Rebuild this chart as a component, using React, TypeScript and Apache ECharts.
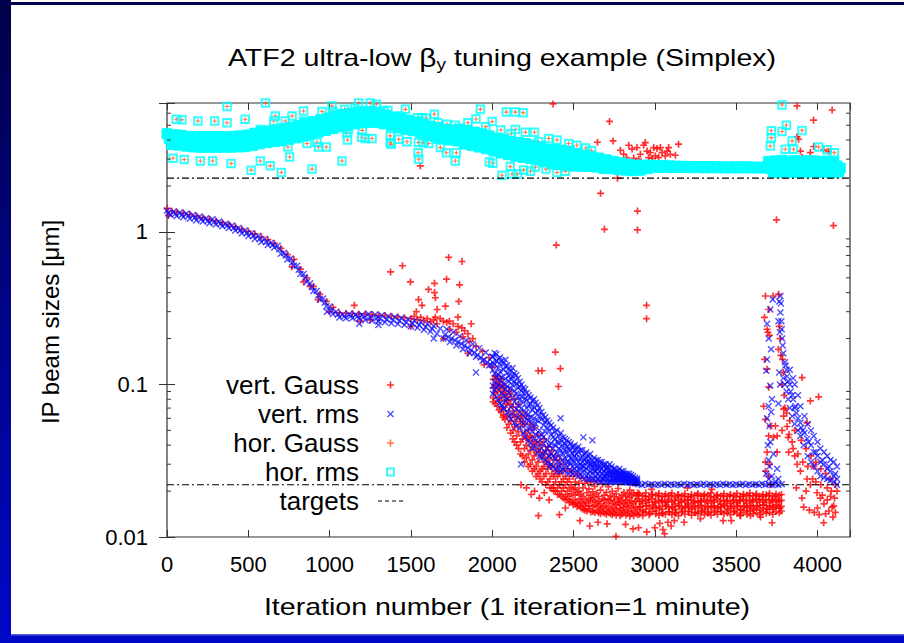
import React, { useEffect, useRef } from 'react';
import * as echarts from 'echarts';

const FONT = "'Liberation Sans', Arial, Helvetica, sans-serif";

const legendNames = ['vert. Gauss', 'vert. rms', 'hor. Gauss', 'hor. rms', 'targets'];
const yMinorTicks = [0.02, 0.03, 0.04, 0.05, 0.06, 0.07, 0.08, 0.09, 0.2, 0.3, 0.4, 0.5, 0.6, 0.7, 0.8, 0.9, 2, 3, 4, 5, 6];
const horizontalTarget = 2.25;
const verticalTarget = 0.022;
const targetSpan = [0, 4200];

// ---------- vert. rms (blue x) ----------
const vertRmsBand = [
  [0,1.38],[20,1.29],[40,1.36],[60,1.27],[80,1.34],[100,1.25],[120,1.32],[140,1.22],[160,1.29],[180,1.19],
  [200,1.26],[220,1.17],[240,1.23],[260,1.14],[280,1.21],[300,1.12],[320,1.17],[340,1.09],[360,1.13],[380,1.06],
  [400,1.10],[420,1.02],[440,1.06],[460,0.98],[480,1.02],[500,0.94],[520,0.98],[540,0.90],[560,0.94],[580,0.86],
  [600,0.90],[620,0.82],[640,0.85],[660,0.79],[680,0.81],[700,0.72],[720,0.73],[740,0.66],[760,0.67],[780,0.60],
  [800,0.60],[820,0.53],[840,0.53],[860,0.47],[880,0.46],[900,0.41],[920,0.41],[940,0.36],[960,0.366],[980,0.325],
  [1000,0.324],[1020,0.29],[1040,0.30],[1060,0.275],[1080,0.288],[1100,0.272],[1120,0.29],[1140,0.272],[1160,0.287],[1180,0.271],
  [1200,0.286],[1220,0.264],[1240,0.29],[1260,0.262],[1280,0.287],[1300,0.259],[1320,0.284],[1340,0.256],[1360,0.28],[1380,0.252],
  [1400,0.277],[1420,0.249],[1440,0.273],[1460,0.245],[1480,0.268],[1500,0.24],[1520,0.262],[1540,0.235],[1560,0.256],[1580,0.228],
  [1600,0.249],[1620,0.222],[1640,0.242],[1660,0.215],[1680,0.233],[1700,0.200],[1720,0.23],[1740,0.19],[1760,0.22],[1780,0.18],
  [1800,0.207],[1820,0.17],[1840,0.195],[1860,0.16],[1880,0.184],[1900,0.152],[1920,0.173],[1940,0.143],[1960,0.162],[1980,0.133],[2000,0.152],
  [10,1.33],[50,1.31],[90,1.29],[130,1.27],[170,1.24],[210,1.21],[250,1.18],[290,1.16],[330,1.13],[370,1.1],
  [410,1.06],[450,1.02],[490,0.98],[530,0.94],[570,0.9],[610,0.86],[650,0.82],[690,0.77],[730,0.7],[770,0.63],
  [810,0.565],[850,0.5],[890,0.435],[930,0.385],[970,0.345],[1010,0.307],[1050,0.287],[1090,0.28],[1130,0.281],[1170,0.279],
  [1210,0.277],[1250,0.275],[1290,0.272],[1310,0.27],[1350,0.267],[1390,0.265],[1430,0.261],[1470,0.256],[1510,0.251],
  [1550,0.245],[1590,0.238],[1630,0.232],
  [1710,0.212],[1730,0.205],[1750,0.2],[1770,0.195],[1790,0.19],[1810,0.185],[1830,0.18],[1850,0.174],[1870,0.168],[1890,0.162],
  [1910,0.156],[1930,0.15],[1950,0.145],[1970,0.14],[1990,0.135],
  [984,0.30],[1182,0.25],[1300,0.245],[1640,0.2],[1900,0.12],
];
// columns: [x, y1, y2, ...]
const vertRmsCloud = [
  [2004,0.152,0.098,0.124,0.087,0.14],[2015,0.118,0.161,0.092,0.135,0.104],[2026,0.142,0.083,0.111,0.158,0.095],
  [2037,0.099,0.128,0.147,0.079,0.116],[2048,0.136,0.106,0.075,0.121,0.15],[2059,0.088,0.143,0.112,0.097,0.073],
  [2070,0.125,0.069,0.138,0.101,0.084],[2081,0.109,0.131,0.078,0.145,0.093],[2092,0.066,0.119,0.097,0.133,0.081],
  [2103,0.127,0.088,0.105,0.062,0.114],[2114,0.094,0.122,0.071,0.108,0.059],[2125,0.113,0.064,0.099,0.128,0.082],
  [2136,0.077,0.105,0.118,0.056,0.091],[2147,0.101,0.069,0.087,0.115,0.053],[2158,0.083,0.11,0.061,0.095,0.073],
  [2169,0.097,0.052,0.079,0.104,0.066],[2180,0.07,0.091,0.057,0.083,0.1],[2191,0.088,0.062,0.048,0.076,0.095],
  [2202,0.065,0.081,0.093,0.054,0.045],[2213,0.079,0.05,0.07,0.088,0.059],[2224,0.058,0.085,0.043,0.073,0.064],
  [2235,0.074,0.052,0.082,0.041,0.061],[2246,0.049,0.068,0.078,0.056,0.038],[2257,0.071,0.044,0.06,0.08,0.052],
  [2268,0.055,0.076,0.039,0.065,0.047],[2279,0.067,0.042,0.058,0.073,0.036],[2290,0.045,0.062,0.07,0.05,0.034],
  [2302,0.059,0.038,0.066,0.047,0.033],[2314,0.041,0.054,0.035,0.063,0.045],[2326,0.057,0.036,0.049,0.061,0.032],
  [2338,0.038,0.052,0.043,0.031,0.058],[2350,0.05,0.034,0.056,0.04,0.029],[2362,0.035,0.047,0.03,0.054,0.041],
  [2374,0.045,0.038,0.052,0.029,0.034],[2386,0.033,0.049,0.04,0.028,0.044],[2398,0.042,0.031,0.05,0.036,0.027],
  [2410,0.038,0.046,0.029,0.034,0.041],[2422,0.03,0.043,0.037,0.048,0.027],[2434,0.04,0.032,0.045,0.028,0.035],
  [2446,0.033,0.041,0.027,0.037,0.044],[2458,0.043,0.029,0.036,0.031,0.039],[2470,0.031,0.038,0.042,0.026,0.034],
  [2482,0.037,0.027,0.033,0.041,0.03],[2494,0.029,0.035,0.039,0.026,0.032],[2506,0.034,0.04,0.028,0.031,0.037],
  [2518,0.026,0.033,0.038,0.029,0.035],[2530,0.036,0.028,0.031,0.025,0.039],[2542,0.03,0.037,0.026,0.033,0.028],
  [2554,0.034,0.025,0.029,0.037,0.031],[2566,0.027,0.032,0.035,0.024,0.029],[2578,0.033,0.028,0.025,0.031,0.036],
  [2590,0.029,0.034,0.026,0.024,0.031],[2602,0.024,0.03,0.033,0.027,0.035],[2614,0.032,0.026,0.029,0.024,0.03],
  [2626,0.027,0.033,0.024,0.03,0.028],[2638,0.03,0.025,0.032,0.027,0.023],[2650,0.026,0.029,0.024,0.032,0.028],
  [2662,0.031,0.027,0.025,0.023,0.029],[2674,0.024,0.028,0.031,0.026,0.023],[2686,0.029,0.025,0.027,0.03,0.024],
  [2698,0.026,0.03,0.023,0.028,0.025],[2710,0.028,0.024,0.029,0.026,0.023],[2722,0.025,0.027,0.03,0.023,0.026],
  [2734,0.027,0.029,0.024,0.026,0.023],[2746,0.024,0.026,0.028,0.025,0.023],[2758,0.028,0.023,0.026,0.024,0.027],
  [2770,0.025,0.027,0.023,0.026,0.024],[2782,0.023,0.026,0.028,0.024,0.025],[2794,0.027,0.024,0.025,0.023,0.026],
  [2806,0.024,0.027,0.023,0.025,0.026],[2818,0.026,0.023,0.025,0.0235,0.024],[2830,0.023,0.025,0.026,0.024,0.0228],
  [2842,0.025,0.0235,0.024,0.026,0.0228],[2854,0.024,0.0255,0.0228,0.023,0.0245],[2866,0.0235,0.025,0.0226,0.024,0.0231],
  [2878,0.0245,0.0227,0.0238,0.0232,0.0225],[2890,0.0232,0.0241,0.0224,0.0236,0.0228],
];
const vertRmsOutliers = [[2069,0.07],[2177,0.03],[2420,0.06],[2560,0.045],[2616,0.043]];
const vertRmsFlat = [
  [2900,0.0222],[2920,0.0219],[2940,0.0223],[2960,0.022],[2980,0.0222],[3000,0.0219],[3020,0.0222],[3040,0.022],
  [3060,0.0223],[3080,0.0219],[3100,0.0222],[3120,0.022],[3140,0.0222],[3160,0.0219],[3180,0.0223],[3200,0.022],
  [3220,0.0222],[3240,0.0219],[3260,0.0222],[3280,0.022],[3300,0.0223],[3320,0.0219],[3340,0.0222],[3360,0.022],
  [3380,0.0222],[3400,0.0219],[3420,0.0223],[3440,0.022],[3460,0.0222],[3480,0.0219],[3500,0.0222],[3520,0.022],
  [3540,0.0223],[3560,0.0219],[3580,0.0222],[3600,0.022],[3620,0.0222],[3640,0.0219],[3660,0.0223],[3680,0.022],
  [3700,0.0222],[3720,0.0219],[3740,0.0222],[3760,0.022],[3780,0.0222],
];
const vertRmsSpike = [
  [3710,0.31],[3690,0.146],[3685,0.123],[3710,0.098],[3700,0.072],[3715,0.066],[3705,0.0535],[3710,0.042],
  [3700,0.032],[3705,0.029],[3752,0.028],[3730,0.035],[3690,0.06],[3720,0.08],[3695,0.04],[3685,0.026],
  [3700,0.024],[3720,0.025],[3740,0.023],[3760,0.024],[3700,0.2],[3715,0.17],[3690,0.25],[3725,0.36],
  [3765,0.35],[3760,0.26],[3768,0.22],[3765,0.12],[3770,0.1],[3760,0.075],
  [3772,0.38],[3775,0.34],[3772,0.296],[3778,0.26],[3780,0.23],[3783,0.2],[3786,0.18],[3790,0.16],
  [3800,0.14],[3803,0.133],[3813,0.113],[3810,0.125],[3820,0.105],[3830,0.1],[3835,0.09],[3845,0.085],
  [3850,0.08],[3860,0.07],[3864,0.072],[3870,0.065],[3880,0.06],[3895,0.056],[3900,0.052],[3910,0.05],
  [3920,0.048],[3936,0.044],[3945,0.042],[3960,0.04],[3977,0.036],[3990,0.036],[4000,0.034],[4018,0.031],
  [4030,0.032],[4040,0.03],[4059,0.028],[4070,0.029],[4080,0.027],[4100,0.025],[4110,0.026],[4120,0.024],
  [3830,0.125],[3860,0.1],[3895,0.072],[3940,0.055],[3977,0.046],[4018,0.038],[4060,0.034],[4100,0.031],
  [4120,0.029],[3850,0.11],[3880,0.085],[3920,0.062],[3960,0.05],[4000,0.042],[4040,0.036],[4080,0.032],
  [3800,0.1],[3820,0.08],[3830,0.07],[3845,0.062],[3860,0.055],[3880,0.05],[3895,0.046],[3915,0.04],
  [3940,0.034],[3960,0.031],[3977,0.029],[4000,0.027],[4018,0.025],[4040,0.0245],[4060,0.024],[4080,0.0235],
  [4100,0.023],[4120,0.022],[3790,0.11],[3810,0.09],
];

// ---------- vert. Gauss (red +) ----------
const vertGaussBand = [
  [0,1.42],[10,1.28],[30,1.37],[60,1.35],[100,1.33],[140,1.30],[180,1.27],[220,1.24],[260,1.21],[300,1.18],
  [340,1.15],[380,1.12],[420,1.08],[460,1.04],[500,1.01],[540,0.97],[580,0.93],[620,0.89],[660,0.84],[700,0.78],
  [740,0.71],[769,0.59],[780,0.66],[820,0.57],[840,0.47],[860,0.5],[880,0.44],[900,0.44],[930,0.36],[940,0.39],
  [980,0.35],[1000,0.3],[1020,0.32],[1060,0.295],[1100,0.293],[1140,0.292],[1152,0.33],[1180,0.29],[1190,0.26],
  [1220,0.29],[1250,0.265],[1260,0.288],[1300,0.285],[1340,0.283],[1380,0.28],[1420,0.277],[1460,0.274],[1500,0.27],
  [1500,0.24],[1520,0.28],[1540,0.266],[1560,0.275],[1580,0.262],[1600,0.27],[1620,0.257],[1640,0.265],[1660,0.25],
  [1680,0.27],[1700,0.26],[1700,0.2],[1720,0.255],[1740,0.23],[1760,0.25],[1780,0.22],[1790,0.24],[1820,0.205],
  [1830,0.225],[1850,0.215],[1850,0.16],[1860,0.192],[1880,0.2],[1900,0.178],[1940,0.165],[1950,0.135],[1980,0.15],[2000,0.13],
];
const vertGaussCloud = [
  [2006,0.108,0.082,0.095,0.077],[2018,0.088,0.114,0.075,0.099],[2030,0.101,0.072,0.09,0.112],[2042,0.079,0.096,0.068,0.105],
  [2054,0.094,0.066,0.108,0.083],[2066,0.07,0.089,0.1,0.061],[2078,0.087,0.059,0.078,0.097],[2090,0.062,0.083,0.052,0.074],
  [2102,0.079,0.055,0.091,0.067],[2114,0.058,0.074,0.048,0.086],[2126,0.071,0.05,0.064,0.044],[2138,0.053,0.08,0.042,0.061],
  [2150,0.067,0.046,0.057,0.04],[2162,0.049,0.062,0.038,0.074],[2174,0.06,0.042,0.053,0.035],[2186,0.044,0.057,0.034,0.066],
  [2198,0.055,0.038,0.048,0.031],[2210,0.04,0.062,0.033,0.045],[2222,0.05,0.035,0.029,0.043],[2234,0.037,0.046,0.055,0.03],
  [2246,0.045,0.032,0.039,0.027],[2258,0.034,0.052,0.028,0.041],[2270,0.042,0.029,0.036,0.025],[2282,0.031,0.038,0.047,0.026],
  [2294,0.036,0.027,0.024,0.042],[2306,0.028,0.04,0.033,0.023],[2318,0.035,0.025,0.029,0.044],[2330,0.026,0.037,0.022,0.031],
  [2342,0.033,0.023,0.028,0.039],[2354,0.024,0.03,0.021,0.035],[2366,0.029,0.021,0.026,0.037],[2378,0.022,0.032,0.025,0.02],
  [2390,0.027,0.02,0.034,0.023],[2402,0.021,0.029,0.019,0.025],[2414,0.026,0.019,0.032,0.022],[2426,0.02,0.027,0.023,0.0185],
  [2438,0.024,0.018,0.03,0.021],[2450,0.019,0.025,0.022,0.0175],[2462,0.023,0.0178,0.028,0.02],[2474,0.0185,0.024,0.0168,0.021],
  [2486,0.022,0.017,0.027,0.0192],[2498,0.0175,0.0205,0.0163,0.025],[2510,0.021,0.0165,0.0188,0.023],[2522,0.0168,0.026,0.0196,0.0158],
  [2534,0.02,0.016,0.0225,0.0178],[2546,0.0155,0.019,0.0243,0.017],[2558,0.0185,0.0152,0.021,0.0165],[2570,0.016,0.0225,0.0175,0.015],
  [2582,0.0195,0.0148,0.0168,0.0235],[2594,0.0153,0.018,0.0207,0.016],[2606,0.0172,0.0146,0.0228,0.0188],[2618,0.0198,0.0158,0.0147,0.0176],
  [2630,0.0145,0.0182,0.0162,0.0215],[2642,0.0168,0.0232,0.0149,0.0193],[2654,0.0185,0.0144,0.0172,0.0158],[2666,0.0152,0.0203,0.0165,0.0142],
  [2678,0.0178,0.0155,0.0222,0.0146],[2690,0.0143,0.0188,0.016,0.0175],[2702,0.0196,0.0149,0.0168,0.0141],[2714,0.0158,0.0178,0.0214,0.0145],
  [2726,0.0174,0.0142,0.0186,0.0153],[2738,0.0147,0.0165,0.0199,0.014],[2750,0.0183,0.0156,0.0143,0.0171],[2762,0.0139,0.0192,0.0162,0.0151],
  [2774,0.0168,0.0145,0.0208,0.0177],[2786,0.0154,0.0181,0.0138,0.0163],[2798,0.0188,0.0149,0.0172,0.0141],[2810,0.0144,0.0166,0.0196,0.0157],
  [2822,0.0175,0.0139,0.0159,0.0184],[2834,0.015,0.0192,0.0146,0.0168],[2846,0.0181,0.0161,0.0137,0.0203],[2858,0.0142,0.0172,0.0155,0.0189],
  [2870,0.0166,0.0148,0.0195,0.0138],[2882,0.0186,0.0157,0.0171,0.0144],[2894,0.0152,0.0178,0.014,0.0195],
];
const vertGaussFlat = [
  [2900,0.0188],[2910,0.0158],[2920,0.0172],[2930,0.0146],[2940,0.0185],[2950,0.016],[2960,0.0175],[2970,0.0143],
  [2980,0.019],[2990,0.0157],[3000,0.017],[3010,0.0148],[3020,0.0186],[3030,0.0155],[3040,0.0173],[3050,0.0142],
  [3060,0.0184],[3070,0.0159],[3080,0.0171],[3090,0.0146],[3100,0.0187],[3110,0.0156],[3120,0.0174],[3130,0.0145],
  [3140,0.0189],[3150,0.016],[3160,0.0172],[3170,0.0148],[3180,0.0185],[3190,0.0158],[3200,0.0175],[3210,0.0147],
  [3220,0.0183],[3230,0.0157],[3240,0.0171],[3250,0.0145],[3260,0.0188],[3270,0.016],[3280,0.0173],[3290,0.0149],
  [3300,0.0186],[3310,0.0158],[3320,0.0172],[3330,0.0146],[3340,0.0184],[3350,0.0159],[3360,0.0174],[3370,0.0148],
  [3380,0.0187],[3390,0.0157],[3400,0.0171],[3410,0.0146],[3420,0.0185],[3430,0.016],[3440,0.0173],[3450,0.0149],
  [3460,0.0186],[3470,0.0158],[3480,0.0172],[3490,0.0148],[3500,0.0184],[3510,0.0159],[3520,0.0174],[3530,0.015],
  [3540,0.0185],[3550,0.016],[3560,0.0173],[3570,0.0149],[3580,0.0186],[3590,0.0161],[3600,0.0174],[3610,0.015],
  [3620,0.0188],[3630,0.016],[3640,0.0175],[3650,0.015],[3660,0.0185],[3670,0.0162],[3680,0.0176],[3690,0.0152],
  [3700,0.0186],[3710,0.016],[3720,0.0174],[3730,0.0152],[3740,0.0184],[3750,0.0163],[3760,0.0176],[3770,0.0155],
];
const vertGaussFlatCols = [
  [2905,0.0192,0.0171,0.0157,0.0141],[2925,0.0186,0.0166,0.015,0.0138],[2945,0.0195,0.0175,0.016,0.0145],
  [2965,0.0184,0.0169,0.0153,0.014],[2985,0.019,0.0178,0.0162,0.0147],[3005,0.0188,0.0167,0.0155,0.0142],
  [3025,0.0193,0.0174,0.0159,0.0139],[3045,0.0185,0.0171,0.0152,0.0144],[3065,0.0191,0.0168,0.0161,0.0141],
  [3085,0.0187,0.0176,0.0156,0.0146],[3105,0.0194,0.017,0.0158,0.014],[3125,0.0183,0.0165,0.0151,0.0143],
  [3145,0.0189,0.0177,0.016,0.0138],[3165,0.0186,0.0169,0.0154,0.0145],[3185,0.0192,0.0173,0.0157,0.0141],
  [3205,0.0184,0.0166,0.0162,0.0147],[3225,0.019,0.0175,0.0153,0.0139],[3245,0.0187,0.0168,0.0159,0.0144],
  [3265,0.0193,0.0172,0.0155,0.0142],[3285,0.0185,0.017,0.0161,0.0146],[3305,0.0191,0.0176,0.0152,0.014],
  [3325,0.0188,0.0167,0.0158,0.0143],[3345,0.0194,0.0174,0.0156,0.0139],[3365,0.0183,0.0169,0.016,0.0145],
  [3385,0.0189,0.0177,0.0154,0.0141],[3405,0.0186,0.0165,0.0157,0.0147],[3425,0.0192,0.0173,0.0162,0.0142],
  [3445,0.0185,0.0171,0.0153,0.0144],[3465,0.019,0.0166,0.0159,0.014],[3485,0.0187,0.0175,0.0155,0.0146],
  [3505,0.0193,0.0168,0.0161,0.0143],[3525,0.0184,0.0172,0.0152,0.0139],[3545,0.0191,0.0176,0.0158,0.0145],
  [3565,0.0188,0.0167,0.0156,0.0141],[3585,0.0194,0.0174,0.016,0.0147],[3605,0.0186,0.017,0.0154,0.0142],
  [3625,0.0192,0.0177,0.0159,0.0144],[3645,0.0185,0.0169,0.0155,0.014],[3665,0.019,0.0173,0.0162,0.0146],
  [3685,0.0189,0.0168,0.0153,0.0143],[3705,0.0193,0.0175,0.0158,0.0145],[3725,0.0186,0.017,0.0156,0.0141],
  [3745,0.0191,0.0176,0.016,0.0147],[3765,0.0188,0.0171,0.0155,0.0144],[3778,0.019,0.0174,0.0159,0.0148],
];
const vertGaussSpike = [
  [3680,0.38],[3727,0.38],[3761,0.39],[3700,0.31],[3674,0.275],[3690,0.23],[3705,0.21],[3695,0.22],
  [3765,0.24],[3770,0.2],[3760,0.17],[3775,0.155],[3675,0.146],[3690,0.126],[3700,0.096],[3669,0.072],
  [3680,0.059],[3710,0.0535],[3741,0.0535],[3700,0.046],[3752,0.046],[3690,0.036],[3680,0.031],[3705,0.03],
  [3680,0.027],[3700,0.025],[3715,0.022],[3752,0.036],[3730,0.045],[3785,0.146],[3790,0.12],[3783,0.1],
  [3795,0.085],[3800,0.07],[3792,0.062],[3813,0.053],[3825,0.047],[3844,0.042],[3823,0.036],[3860,0.034],
  [3875,0.03],[3895,0.027],[3936,0.024],[3956,0.022],[3997,0.0195],[4018,0.018],[4040,0.0165],[4060,0.0175],
  [4080,0.0185],[4100,0.016],[4090,0.0157],[3915,0.0157],[3950,0.015],[3980,0.0145],[4010,0.014],[4050,0.0142],
  [4038,0.0124],[4070,0.0148],[4110,0.0145],[4105,0.018],[4085,0.02],[4060,0.021],[4020,0.022],[3990,0.023],
  [3970,0.024],[3905,0.111],[3956,0.078],[4007,0.083],[3936,0.056],[3782,0.05],[3820,0.045],[3850,0.038],
  [3880,0.035],[3910,0.031],[3940,0.029],[3977,0.029],[3792,0.069],[3810,0.065],[3830,0.058],[3860,0.05],
  [3900,0.043],[3930,0.038],[3960,0.034],[3990,0.031],[4020,0.028],[4050,0.026],[4080,0.024],[4110,0.022],
  [4120,0.02],[3905,0.018],[3870,0.021],[3930,0.02],[4000,0.0155],[4030,0.0188],[4095,0.0135],
];
const vertGaussOutliers = [
  [1375,0.547],[1448,0.60],[1497,0.47],[1533,0.30],[1547,0.36],[1558,2.71],[1568,0.33],[1608,0.42],[1645,0.46],
  [1645,0.40],[1650,0.37],[1650,0.276],[1661,0.31],[1712,0.326],[1719,0.49],[1732,0.68],[1736,0.26],[1789,0.276],
  [1794,0.35],[1799,0.45],[1814,0.64],[1814,0.235],[1871,0.25],[2070,0.063],[2177,0.022],[2210,0.021],[2240,0.019],
  [2260,0.02],[2283,0.123],[2284,0.0138],[2290,0.018],[2306,0.123],[2320,0.0195],[2350,0.0175],[2374,6.9],
  [2388,0.163],[2394,0.82],[2407,0.097],[2413,0.014],[2419,0.127],[2450,0.0155],[2540,0.0128],[2600,0.0118],
  [2647,3.87],[2650,0.0125],[2666,1.79],[2690,1.04],[2706,0.0122],[2721,5.3],[2743,3.95],[2761,0.0101],[2770,2.25],
  [2820,0.0121],[2866,0.0113],[2893,1.37],[2893,1.03],[2900,0.0115],[2949,0.33],[2949,0.27],[2950,0.0108],
  [3000,0.0115],[3050,0.0112],[3060,0.0105],[3100,0.0118],
  [2788,3.43],[2808,3.23],[2825,3.07],[2839,3.7],[2860,3.49],[2870,3.04],[2890,3.57],[2900,2.99],[2911,3.23],
  [2931,3.7],[2941,3.85],[2952,3.39],[2962,3.07],[2972,3.31],[2983,3.03],[2993,3.57],[3003,3.15],[3013,3.52],
  [3023,3.07],[3034,3.57],[3044,3.31],[3064,3.15],[3075,3.39],[3085,3.57],[3095,3.23],[3126,3.18],[3146,3.76],
  [3748,1.2],[3874,6.7],[3874,4.2],[3884,4.05],[3895,3.39],[3905,3.07],[3956,3.31],[3976,5.4],[3977,3.63],
  [4038,3.45],[4069,3.36],[4090,6.3],[4098,1.1],
  [2980,0.0205],[3030,0.0123],[3080,0.0125],[3120,0.0128],[3180,0.0125],[3200,0.021],[3280,0.0132],[3350,0.0205],
  [3420,0.0128],[3470,0.0128],[3526,0.0138],[3588,0.0138],[3650,0.0135],[3721,0.0124],
];

// ---------- hor. rms (cyan squares): dense band ----------
const horRmsBand = [
  [0,4.40],[15,4.07],[30,3.74],[45,4.34],[60,4.02],[75,3.70],[90,4.29],[105,3.97],[120,3.65],
  [135,4.23],[150,3.92],[165,3.61],[180,4.21],[195,3.90],[210,3.59],[225,4.21],[240,3.90],[255,3.59],
  [270,4.21],[285,3.90],[300,3.59],[315,4.21],[330,3.90],[345,3.59],[360,4.21],[375,3.90],[390,3.59],
  [405,4.23],[420,3.92],[435,3.61],[450,4.26],[465,3.94],[480,3.62],[495,4.32],[510,4.00],[525,3.68],
  [540,4.44],[555,4.11],[570,3.78],[585,4.54],[600,4.20],[615,3.86],[630,4.59],[645,4.25],[660,3.91],
  [675,4.64],[690,4.30],[705,3.96],[720,4.75],[735,4.40],[750,4.05],[765,4.86],[780,4.50],[795,4.14],
  [810,4.99],[825,4.62],[840,4.25],[855,5.14],[870,4.76],[885,4.38],[900,5.29],[915,4.90],[930,4.51],
  [945,5.43],[960,5.03],[975,4.63],[990,5.58],[1005,5.17],[1020,4.76],[1035,5.73],[1050,5.31],[1065,4.89],
  [1080,5.89],[1095,5.45],[1110,5.01],[1125,5.99],[1140,5.55],[1155,5.11],[1170,6.09],[1185,5.64],[1200,5.19],
  [1215,6.13],[1230,5.68],[1245,5.23],[1260,6.13],[1275,5.68],[1290,5.23],[1305,5.99],[1320,5.55],[1335,5.11],
  [1350,5.82],[1365,5.39],[1380,4.96],[1395,5.64],[1410,5.22],[1425,4.80],[1440,5.52],[1455,5.11],[1470,4.70],
  [1485,5.40],[1500,5.00],[1515,4.60],[1530,5.25],[1545,4.86],[1560,4.47],[1575,5.07],[1590,4.69],[1605,4.31],
  [1620,4.92],[1635,4.56],[1650,4.20],[1665,4.82],[1680,4.46],[1695,4.10],[1710,4.71],[1725,4.36],[1740,4.01],
  [1755,4.63],[1770,4.29],[1785,3.95],[1800,4.73],[1815,4.22],[1830,3.77],[1845,4.63],[1860,4.13],[1875,3.69],
  [1890,4.51],[1905,4.03],[1920,3.60],[1935,4.40],[1950,3.93],[1965,3.51],[1980,4.26],[1995,3.80],[2010,3.39],
  [2025,4.12],[2040,3.68],[2055,3.29],[2070,4.02],[2085,3.59],[2100,3.21],[2115,3.93],[2130,3.51],[2145,3.13],
  [2160,3.86],[2175,3.45],[2190,3.08],[2205,3.80],[2220,3.39],[2235,3.03],[2250,3.71],[2265,3.31],[2280,2.96],
  [2295,3.61],[2310,3.22],[2325,2.88],[2340,3.49],[2355,3.12],[2370,2.79],[2385,3.46],[2400,3.09],[2415,2.76],
  [2430,3.43],[2445,3.06],[2460,2.73],[2475,3.38],[2490,3.02],[2505,2.70],[2520,3.27],[2535,2.97],[2550,2.70],
  [2565,3.19],[2580,2.93],[2595,2.69],[2610,3.11],[2625,2.88],[2640,2.66],[2655,3.05],[2670,2.83],[2685,2.61],
  [2700,2.97],[2715,2.78],[2730,2.60],[2745,2.90],[2760,2.72],[2775,2.56],[2790,2.84],[2805,2.68],[2820,2.54],
  [2835,2.78],[2850,2.64],[2865,2.52],[2880,2.74],[2895,2.63],[2910,2.54],[2925,2.74],[2940,2.66],[2955,2.60],
  [2970,2.74],[2990,2.66],[3010,2.72],[3030,2.65],[3050,2.73],[3070,2.66],[3090,2.71],[3110,2.64],[3130,2.7],
  [3150,2.65],[3170,2.69],[3190,2.64],[3210,2.69],[3230,2.64],[3250,2.68],[3270,2.64],[3290,2.68],[3310,2.63],
  [3330,2.68],[3350,2.64],[3370,2.67],[3390,2.63],[3410,2.67],[3430,2.63],[3450,2.67],[3470,2.63],[3490,2.67],
  [3510,2.63],[3530,2.67],[3550,2.63],[3570,2.67],[3590,2.63],[3610,2.66],[3630,2.63],[3650,2.66],[3670,2.63],[3690,2.66],
  [3700,2.9],[3710,2.6],[3720,2.75],[3730,2.47],[3740,2.92],[3750,2.58],[3760,2.72],[3770,2.45],[3780,2.95],
  [3790,2.6],[3800,2.76],[3810,2.47],[3820,2.9],[3830,2.57],[3840,2.73],[3850,2.46],[3860,2.93],[3870,2.59],
  [3880,2.74],[3890,2.45],[3900,2.9],[3910,2.58],[3920,2.72],[3930,2.46],[3940,2.94],[3950,2.6],[3960,2.75],
  [3970,2.47],[3980,2.92],[3990,2.57],[4000,2.73],[4010,2.45],[4020,2.9],[4030,2.59],[4040,2.74],[4050,2.46],
  [4060,2.91],[4070,2.58],[4080,2.72],[4090,2.45],[4100,2.88],[4110,2.57],[4120,2.7],[4130,2.47],[4140,2.62],
];
// scattered horizontal measurements (rms and Gauss coincide)
const horOutliers = [
  [37,3.04],[57,5.48],[92,5.43],[106,2.98],[190,5.34],[205,2.92],[281,2.92],[293,5.34],[369,6.64],[369,5.2],
  [394,2.81],[481,5.48],[517,2.54],[574,4.7],[574,2.92],[606,7.0],[635,2.71],[656,5.34],[666,5.76],[703,2.45],
  [727,5.34],[740,4.85],[745,4.5],[744,3.6],[754,3.1],[769,5.76],[840,6.2],[840,5.34],[861,3.8],[892,2.58],
  [922,3.87],[932,3.6],[953,6.15],[980,3.6],[1015,6.7],[1020,6.15],[1076,2.92],[1085,4.85],[1092,6.36],[1105,4.45],
  [1110,4.0],[1116,4.7],[1154,6.47],[1178,7.0],[1197,4.17],[1201,4.63],[1220,4.1],[1250,7.0],[1256,6.2],[1261,4.1],
  [1287,6.87],[1322,5.56],[1328,6.25],[1359,6.25],[1373,4.26],[1373,3.85],[1378,3.75],[1425,4.05],[1428,5.76],
  [1466,6.36],[1476,3.9],[1541,5.6],[1544,3.3],[1546,3.85],[1548,3.0],[1568,5.6],[1576,3.85],[1595,5.56],[1609,3.8],
  [1644,5.9],[1661,4.05],[1667,5.2],[1681,3.57],[1718,3.3],[1722,5.07],[1773,5.0],[1773,2.92],[1779,3.3],[1850,5.2],
  [1900,5.5],[1927,6.36],[1960,4.9],[1982,2.87],[2000,5.3],[2004,2.82],[2054,4.66],[2060,2.35],[2087,6.1],[2111,2.68],
  [2116,4.4],[2122,2.4],[2142,6.1],[2142,4.7],[2156,2.4],[2190,6.05],[2193,2.55],[2204,4.5],[2235,2.5],[2260,4.5],
  [2265,2.66],[2285,3.9],[2330,2.58],[2347,4.1],[2398,4.0],[2398,2.45],[2450,2.5],[2470,3.8],[2520,3.7],[2575,3.55],
  [2610,3.4],[3710,3.66],[3716,4.6],[3716,4.15],[3782,6.8],[3782,4.55],[3802,3.48],[3809,5.0],[3844,3.95],
  [3853,3.48],[3905,4.63],[4007,3.6],[4059,3.45],[4104,3.3],
];
// ---------- hor. Gauss (orange) band, mostly hidden under hor. rms ----------
const horGaussBand = [
  [0,4.05],[90,3.95],[180,3.88],[270,3.88],[360,3.88],[450,3.92],[540,4.08],[630,4.22],[720,4.36],[810,4.58],
  [900,4.86],[990,5.12],[1080,5.4],[1170,5.6],[1260,5.62],[1350,5.34],[1440,5.06],[1530,4.82],[1620,4.52],
  [1710,4.32],[1800,4.18],[1890,4.0],[1980,3.77],[2070,3.56],[2160,3.42],[2250,3.28],[2340,3.1],[2430,3.03],
  [2520,2.94],[2610,2.85],[2700,2.75],[2790,2.66],[2880,2.61],[2960,2.58],[3000,2.58],[3040,2.58],[3080,2.58],
  [3120,2.58],[3160,2.58],[3200,2.58],[3250,2.58],[3300,2.58],[3350,2.58],[3400,2.58],[3500,2.59],[3600,2.59],
  [3700,2.62],[3800,2.65],[3900,2.66],[4000,2.64],[4100,2.63],
];

const expandColumns = (rows: number[][]) => rows.flatMap(([x, ...ys]) => ys.map((y) => [x, y]));

const PLUS = 'path://M0,3.8H10V6.2H0Z M3.8,0H6.2V10H3.8Z';
const CROSS = 'path://M0,1.4L1.4,0L5,3.6L8.6,0L10,1.4L6.4,5L10,8.6L8.6,10L5,6.4L1.4,10L0,8.6L3.6,5Z';
const SQUARE = 'path://M0,0H10V10H0Z';
const DASHES = 'path://M0,0H4V1H0Z M7,0H11V1H7Z M14,0H18V1H14Z M21,0H25V1H21Z';

export default function App() {
  const ref = useRef<HTMLDivElement>(null);
  useEffect(() => {
    if (!ref.current) return;
    const chart = echarts.init(ref.current, undefined, { renderer: 'svg' });
    const vertGauss = [
      ...vertGaussBand, ...expandColumns(vertGaussCloud), ...vertGaussFlat, ...expandColumns(vertGaussFlatCols),
      ...vertGaussSpike, ...vertGaussOutliers,
    ];
    const vertRms = [...vertRmsBand, ...expandColumns(vertRmsCloud), ...vertRmsOutliers, ...vertRmsFlat, ...vertRmsSpike];
    const horGauss = [...horGaussBand, ...horOutliers];
    // the band is thousands of overlapping squares: drawn as filled squares
    const horRms = [
      ...horRmsBand.map((p) => ({
        value: p, symbolSize: 10,
        itemStyle: { color: '#00ffff', borderColor: '#00ffff', borderWidth: 1, opacity: 1 },
      })),
      ...horOutliers,
    ];
    const targets = [
      [targetSpan[0], horizontalTarget], [targetSpan[1], horizontalTarget], [targetSpan[1], '-'],
      [targetSpan[0], verticalTarget], [targetSpan[1], verticalTarget],
    ];

    const tickStyle = { color: '#333', width: 1 };
    const yLabelFmt = (v: number) => {
      const l = Math.log10(v);
      return Math.abs(l - Math.round(l)) < 1e-6 ? String(Number(v.toPrecision(2))) : '';
    };
    const xLabelFmt = (v: number) => (v % 500 === 0 && v <= 4000 ? String(v) : '');

    chart.setOption({
      animation: false,
      backgroundColor: '#ffffff',
      grid: { left: 167, top: 103, width: 683, height: 434, show: true, borderColor: '#333', borderWidth: 1.2, backgroundColor: 'transparent' },
      xAxis: [
        {
          type: 'value', min: 0, max: 4200, interval: 500, position: 'bottom',
          axisLine: { show: false }, splitLine: { show: false },
          axisTick: { inside: true, length: 7, lineStyle: tickStyle },
          axisLabel: { formatter: xLabelFmt, fontSize: 22, fontFamily: FONT, color: '#000', margin: 16 },
        },
        {
          type: 'value', min: 0, max: 4200, interval: 500, position: 'top',
          axisLine: { show: false }, splitLine: { show: false },
          axisTick: { inside: true, length: 7, lineStyle: tickStyle },
          axisLabel: { show: false },
        },
      ],
      yAxis: [
        {
          type: 'log', logBase: 10, min: 0.01, max: 7, position: 'left',
          axisLine: { show: false }, splitLine: { show: false },
          axisTick: { inside: true, length: 8, lineStyle: tickStyle },
          axisLabel: { formatter: yLabelFmt, fontSize: 22, fontFamily: FONT, color: '#000', margin: 19 },
        },
        {
          type: 'log', logBase: 10, min: 0.01, max: 7, position: 'right',
          axisLine: { show: false }, splitLine: { show: false },
          axisTick: { inside: true, length: 8, lineStyle: tickStyle },
          axisLabel: { show: false },
        },
      ],
      legend: {
        orient: 'vertical', align: 'right', right: 501, top: 372, padding: 0,
        itemWidth: 25, itemHeight: 7, itemGap: 3, selectedMode: false,
        textStyle: { fontSize: 26, fontFamily: FONT, color: '#000', lineHeight: 26, padding: [0, 14, 0, 0] },
        data: [
          { name: legendNames[0] },
          { name: legendNames[1] },
          { name: legendNames[2] },
          { name: legendNames[3], icon: SQUARE },
          { name: legendNames[4], icon: DASHES },
        ],
      },
      series: [
        {
          name: legendNames[0], type: 'scatter', data: vertGauss, symbol: PLUS, symbolSize: 7,
          itemStyle: { color: '#ff0000' }, silent: true, z: 2,
        },
        {
          name: legendNames[1], type: 'scatter', data: vertRms, symbol: CROSS, symbolSize: 7,
          itemStyle: { color: '#0a0aff', opacity: 0.72 }, silent: true, z: 3,
        },
        {
          name: legendNames[2], type: 'scatter', data: horGauss, symbol: PLUS, symbolSize: 4.5,
          itemStyle: { color: '#ff5a1e' }, silent: true, z: 4,
        },
        {
          name: legendNames[3], type: 'scatter', data: horRms, symbol: SQUARE, symbolSize: 7.5,
          itemStyle: { color: 'rgba(255,255,255,0)', borderColor: '#00ffff', borderWidth: 2 }, silent: true, z: 5,
        },
        {
          name: legendNames[4], type: 'line', data: targets, symbol: 'none', showSymbol: false, z: 6,
          connectNulls: false, silent: true,
          itemStyle: { color: '#000' },
          lineStyle: { color: '#000', width: 1.2, type: [7, 3, 2, 3] },
        },
        {
          name: 'minorTicks', type: 'custom', silent: true, z: 7,
          data: yMinorTicks.map((v) => [0, v]),
          renderItem: (params: any, api: any) => {
            const p = api.coord([0, api.value(1)]);
            const cs = params.coordSys;
            const l = cs.x;
            const r = cs.x + cs.width;
            return {
              type: 'group',
              children: [
                { type: 'line', shape: { x1: l, y1: p[1], x2: l + 4, y2: p[1] }, style: { stroke: '#333', lineWidth: 1 } },
                { type: 'line', shape: { x1: r - 4, y1: p[1], x2: r, y2: p[1] }, style: { stroke: '#333', lineWidth: 1 } },
              ],
            };
          },
        },
      ],
      graphic: [
        { type: 'rect', shape: { x: 0, y: 0, width: 11, height: 643 }, style: { fill: new echarts.graphic.LinearGradient(0, 0, 0, 1, [{ offset: 0, color: '#000048' }, { offset: 1, color: '#0008c8' }]) } },
        { type: 'rect', shape: { x: 0, y: 634, width: 904, height: 9 }, style: { fill: '#0008c8' } },
        { type: 'rect', shape: { x: 11, y: 634, width: 893, height: 1.5 }, style: { fill: '#5060e0' } },
        { type: 'rect', shape: { x: 0, y: 2, width: 904, height: 3 }, style: { fill: '#000050' } },
        {
          type: 'text', x: 502, y: 58, scaleX: 1.19,
          style: {
            text: 'ATF2 ultra-low {g|β}{s|y} tuning example (Simplex)',
            align: 'center', verticalAlign: 'middle', fontSize: 24, fontFamily: FONT, fill: '#000',
            rich: {
              g: { fontSize: 25, fontFamily: FONT, fill: '#000' },
              s: { fontSize: 16, fontFamily: FONT, fill: '#000', padding: [13, 0, 0, 0] },
            },
          },
        },
        {
          type: 'text', x: 50, y: 322, rotation: Math.PI / 2,
          style: { text: 'IP beam sizes [μm]', align: 'center', verticalAlign: 'middle', fontSize: 24, fontFamily: FONT, fill: '#000' },
        },
        {
          type: 'text', x: 507, y: 607, scaleX: 1.19,
          style: { text: 'Iteration number (1 iteration=1 minute)', align: 'center', verticalAlign: 'middle', fontSize: 24, fontFamily: FONT, fill: '#000' },
        },
      ],
    });
    return () => chart.dispose();
  }, []);
  return <div ref={ref} style={{ position: 'fixed', left: 0, top: 0, width: 904, height: 643, background: '#fff' }} />;
}
